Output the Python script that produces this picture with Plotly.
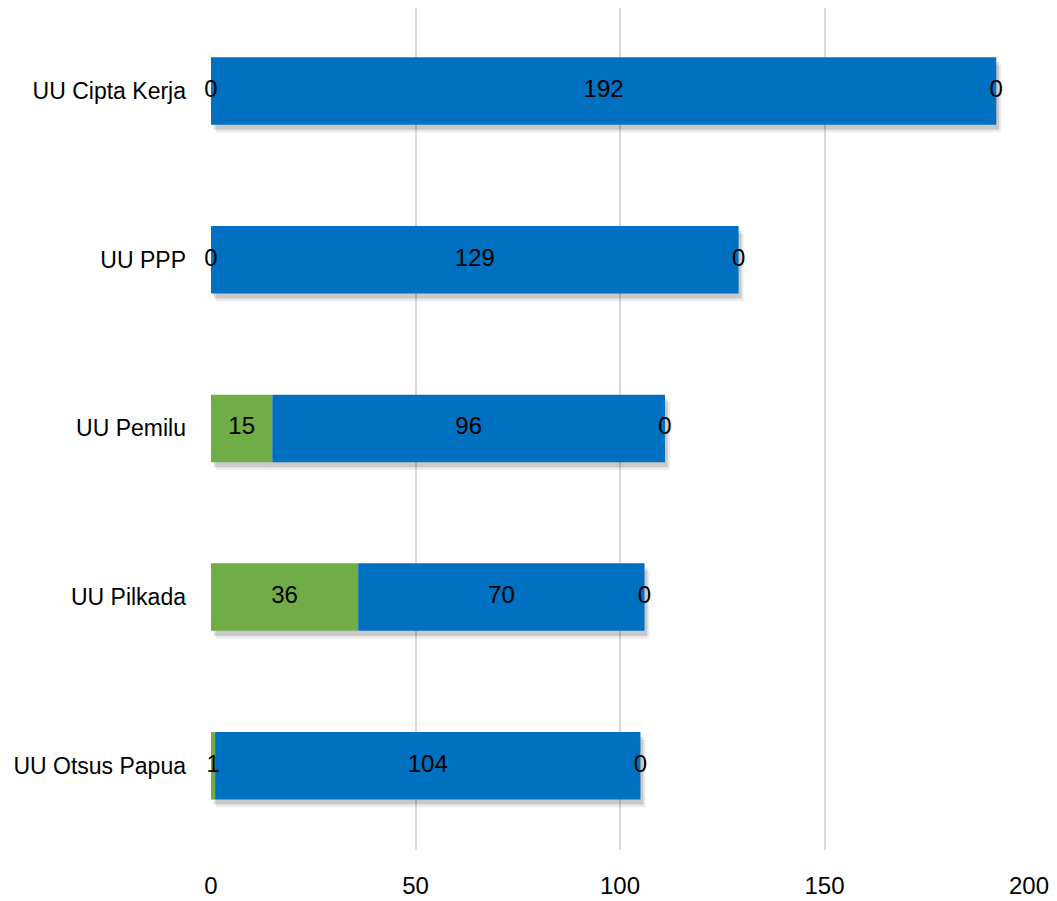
import plotly.graph_objects as go

categories = ["UU Otsus Papua", "UU Pilkada", "UU Pemilu", "UU PPP", "UU Cipta Kerja"]
series_green = [1, 36, 15, 0, 0]
series_blue = [104, 70, 96, 129, 192]
series_third = [0, 0, 0, 0, 0]
x_ticks = [0, 50, 100, 150, 200]

GREEN = "#70AD47"
BLUE = "#0070C0"
GREY = "#A5A5A5"
FONT = "Liberation Sans, Arial, sans-serif"
FS = 24
BAR_W = 0.4

base_blue = series_green
base_third = [g + b for g, b in zip(series_green, series_blue)]
totals = [g + b + t for g, b, t in zip(series_green, series_blue, series_third)]

fig = go.Figure()

# soft drop shadow behind each bar
for alpha, dx, dy in [(0.08, 1.2, 0.045), (0.14, 0.7, 0.03)]:
    fig.add_trace(go.Bar(
        y=categories, x=totals, base=[dx] * len(totals), orientation="h",
        width=BAR_W, offset=-BAR_W / 2 - dy,
        marker=dict(color=f"rgba(0,0,0,{alpha})", line=dict(width=0)),
        hoverinfo="skip", showlegend=False,
    ))

fig.add_trace(go.Bar(
    name="Series 1", y=categories, x=series_green, base=[0] * len(categories),
    orientation="h", width=BAR_W, marker=dict(color=GREEN, line=dict(width=0)),
    showlegend=False,
))
fig.add_trace(go.Bar(
    name="Series 2", y=categories, x=series_blue, base=base_blue,
    orientation="h", width=BAR_W, marker=dict(color=BLUE, line=dict(width=0)),
    showlegend=False,
))
fig.add_trace(go.Bar(
    name="Series 3", y=categories, x=series_third, base=base_third,
    orientation="h", width=BAR_W, marker=dict(color=GREY, line=dict(width=0)),
    showlegend=False,
))

# value labels at the middle of each segment
for vals, bases in [(series_green, [0] * len(categories)), (series_blue, base_blue), (series_third, base_third)]:
    fig.add_trace(go.Scatter(
        y=categories, x=[b + v / 2 for b, v in zip(bases, vals)],
        mode="text", text=[str(v) for v in vals],
        textposition="middle center", cliponaxis=False,
        textfont=dict(family=FONT, size=FS, color="#000000"),
        hoverinfo="skip", showlegend=False,
    ))

fig.update_layout(
    width=1049, height=893,
    margin=dict(l=203, r=28, t=0, b=51),
    barmode="overlay",
    plot_bgcolor="white", paper_bgcolor="white",
    font=dict(family=FONT, size=FS, color="#000000"),
    xaxis=dict(
        range=[0, 200], tickvals=x_ticks, ticktext=[str(t) for t in x_ticks],
        showgrid=True, gridcolor="#D9D9D9", gridwidth=1.5,
        zeroline=False, showline=False, ticks="",
        ticklabelstandoff=19, automargin=False,
        tickfont=dict(family=FONT, size=FS, color="#000000"),
    ),
    yaxis=dict(
        type="category", categoryorder="array", categoryarray=categories,
        range=[-0.499, 4.492], showgrid=False, zeroline=False, showline=False,
        ticks="", ticklabelstandoff=24, automargin=False,
        tickfont=dict(family=FONT, size=23, color="#000000"),
    ),
)

fig.write_html("out.html")
